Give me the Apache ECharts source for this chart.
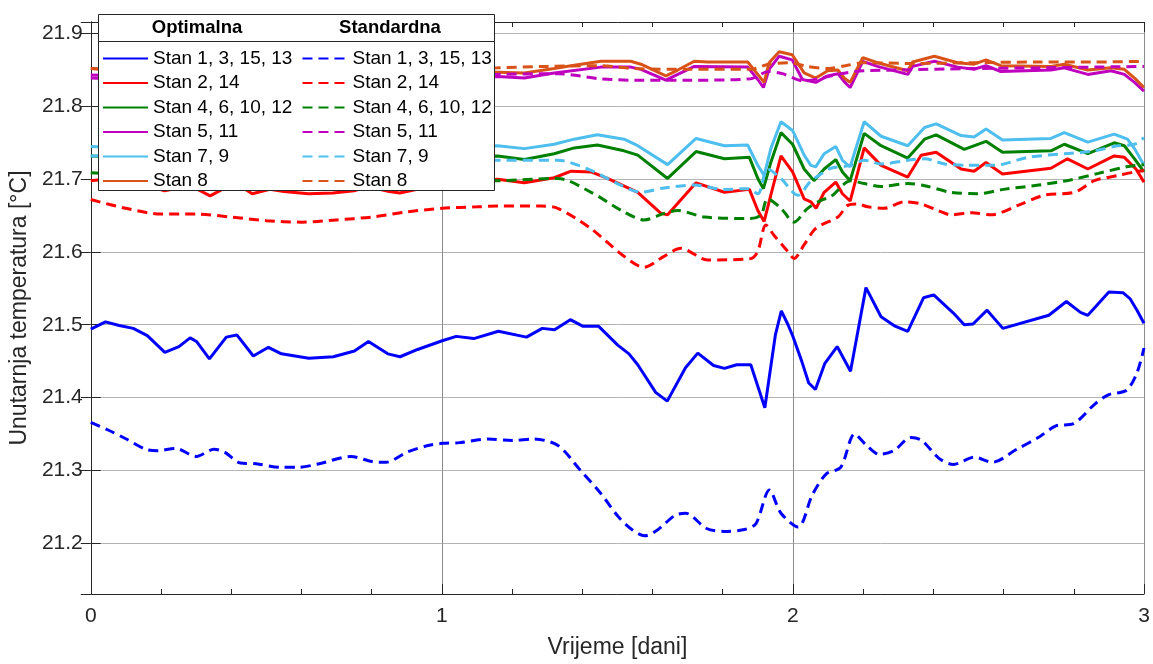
<!DOCTYPE html>
<html>
<head>
<meta charset="utf-8">
<script src="https://cdn.jsdelivr.net/npm/echarts@6/dist/echarts.min.js"></script>
<style>
html, body { margin: 0; padding: 0; background: #fff; }
#box1 { width: 1153px; height: 664px; }
</style>
</head>
<body>
<div id="box1"></div>
<script>
// [vrijeme (dani), temperatura (°C)]
var blueOpt = [[0,21.494],[0.042,21.504],[0.081,21.499],[0.121,21.495],[0.161,21.485],[0.211,21.462],[0.251,21.470],[0.283,21.482],[0.301,21.477],[0.338,21.453],[0.386,21.483],[0.416,21.486],[0.463,21.457],[0.506,21.469],[0.543,21.460],[0.621,21.454],[0.691,21.456],[0.751,21.464],[0.791,21.477],[0.846,21.460],[0.881,21.456],[0.931,21.466],[1.001,21.478],[1.041,21.484],[1.091,21.481],[1.161,21.491],[1.241,21.483],[1.286,21.495],[1.321,21.493],[1.366,21.507],[1.401,21.498],[1.446,21.498],[1.501,21.472],[1.533,21.460],[1.558,21.445],[1.609,21.407],[1.642,21.395],[1.694,21.441],[1.729,21.461],[1.774,21.444],[1.805,21.440],[1.840,21.445],[1.880,21.445],[1.920,21.386],[1.950,21.486],[1.967,21.519],[1.986,21.500],[2.000,21.484],[2.025,21.450],[2.045,21.420],[2.064,21.411],[2.091,21.447],[2.126,21.470],[2.164,21.436],[2.208,21.551],[2.251,21.511],[2.291,21.498],[2.327,21.491],[2.372,21.537],[2.401,21.541],[2.457,21.516],[2.488,21.500],[2.513,21.501],[2.553,21.520],[2.598,21.495],[2.729,21.513],[2.779,21.532],[2.819,21.517],[2.840,21.513],[2.900,21.545],[2.940,21.544],[2.960,21.536],[2.980,21.520],[3.000,21.502]];
var blueStd = [[0,21.366],[0.051,21.355],[0.101,21.343],[0.156,21.329],[0.191,21.327],[0.241,21.330],[0.301,21.319],[0.351,21.329],[0.381,21.325],[0.426,21.310],[0.471,21.309],[0.541,21.304],[0.591,21.304],[0.651,21.309],[0.741,21.319],[0.801,21.312],[0.841,21.311],[0.901,21.325],[0.961,21.334],[1.001,21.337],[1.051,21.338],[1.131,21.343],[1.201,21.341],[1.261,21.343],[1.331,21.334],[1.391,21.302],[1.453,21.268],[1.503,21.236],[1.543,21.218],[1.578,21.210],[1.614,21.218],[1.664,21.238],[1.694,21.241],[1.754,21.220],[1.805,21.216],[1.865,21.219],[1.895,21.227],[1.933,21.273],[1.966,21.241],[2.015,21.222],[2.055,21.266],[2.095,21.295],[2.136,21.304],[2.176,21.350],[2.206,21.336],[2.246,21.322],[2.287,21.327],[2.337,21.345],[2.367,21.341],[2.417,21.316],[2.457,21.308],[2.517,21.318],[2.568,21.311],[2.638,21.329],[2.699,21.345],[2.749,21.361],[2.799,21.364],[2.860,21.391],[2.900,21.404],[2.950,21.410],[2.980,21.434],[3.000,21.468]];

var redOpt = [[0,21.698],[0.04,21.700],[0.1,21.697],[0.16,21.692],[0.21,21.684],[0.25,21.688],[0.28,21.692],[0.34,21.677],[0.39,21.690],[0.42,21.692],[0.46,21.680],[0.51,21.686],[0.55,21.683],[0.62,21.680],[0.69,21.681],[0.75,21.684],[0.79,21.690],[0.85,21.683],[0.88,21.681],[0.93,21.686],[1.0,21.690],[1.08,21.696],[1.159,21.700],[1.235,21.695],[1.320,21.702],[1.368,21.711],[1.425,21.710],[1.472,21.701],[1.558,21.682],[1.624,21.653],[1.643,21.651],[1.724,21.695],[1.805,21.682],[1.876,21.686],[1.900,21.657],[1.918,21.642],[1.937,21.678],[1.966,21.732],[1.999,21.710],[2.032,21.673],[2.051,21.669],[2.066,21.660],[2.089,21.682],[2.122,21.696],[2.141,21.680],[2.163,21.670],[2.203,21.743],[2.251,21.719],[2.327,21.703],[2.365,21.733],[2.408,21.737],[2.479,21.714],[2.516,21.711],[2.550,21.723],[2.597,21.707],[2.735,21.715],[2.782,21.728],[2.840,21.714],[2.915,21.732],[2.944,21.730],[2.977,21.714],[3.0,21.696]];
var redStd = [[0,21.672],[0.1,21.660],[0.2,21.652],[0.3,21.652],[0.4,21.648],[0.5,21.643],[0.6,21.641],[0.7,21.644],[0.8,21.648],[0.9,21.655],[1.0,21.660],[1.1,21.662],[1.159,21.663],[1.282,21.663],[1.330,21.660],[1.425,21.632],[1.519,21.594],[1.576,21.579],[1.633,21.594],[1.681,21.605],[1.757,21.589],[1.880,21.591],[1.900,21.601],[1.923,21.637],[1.946,21.623],[1.985,21.601],[2.003,21.591],[2.032,21.610],[2.060,21.630],[2.080,21.637],[2.128,21.648],[2.156,21.664],[2.184,21.666],[2.213,21.662],[2.260,21.660],[2.317,21.669],[2.365,21.666],[2.413,21.657],[2.451,21.651],[2.508,21.654],[2.565,21.651],[2.641,21.664],[2.716,21.678],[2.802,21.682],[2.859,21.698],[2.925,21.705],[2.973,21.710],[3.0,21.712]];

var greenOpt = [[0,21.732],[0.1,21.730],[0.2,21.724],[0.28,21.729],[0.34,21.721],[0.41,21.729],[0.46,21.721],[0.55,21.722],[0.65,21.721],[0.79,21.728],[0.88,21.722],[1.0,21.727],[1.08,21.730],[1.159,21.732],[1.235,21.727],[1.320,21.735],[1.377,21.743],[1.443,21.747],[1.519,21.739],[1.558,21.733],[1.643,21.701],[1.724,21.738],[1.805,21.728],[1.876,21.730],[1.900,21.701],[1.916,21.687],[1.937,21.723],[1.966,21.764],[1.999,21.748],[2.032,21.714],[2.060,21.698],[2.089,21.714],[2.122,21.727],[2.141,21.710],[2.163,21.698],[2.203,21.763],[2.251,21.746],[2.327,21.729],[2.375,21.755],[2.408,21.761],[2.488,21.741],[2.550,21.752],[2.597,21.737],[2.735,21.739],[2.773,21.748],[2.840,21.735],[2.915,21.750],[2.944,21.746],[2.973,21.728],[3.0,21.710]];
var greenStd = [[0,21.709],[0.2,21.704],[0.5,21.700],[0.8,21.698],[1.0,21.698],[1.159,21.698],[1.33,21.701],[1.425,21.682],[1.519,21.655],[1.576,21.644],[1.633,21.653],[1.672,21.657],[1.748,21.648],[1.880,21.646],[1.909,21.651],[1.928,21.673],[1.966,21.660],[2.003,21.641],[2.042,21.660],[2.080,21.671],[2.108,21.676],[2.165,21.698],[2.203,21.694],[2.251,21.690],[2.327,21.694],[2.375,21.691],[2.45,21.682],[2.526,21.680],[2.60,21.686],[2.70,21.692],[2.79,21.699],[2.87,21.708],[2.95,21.717],[3.0,21.720]];

var magentaOpt = [[0,21.839],[0.1,21.837],[0.2,21.834],[0.3,21.836],[0.4,21.838],[0.5,21.836],[0.6,21.837],[0.7,21.838],[0.8,21.841],[0.9,21.837],[1.0,21.840],[1.08,21.840],[1.159,21.841],[1.235,21.839],[1.320,21.846],[1.453,21.854],[1.538,21.854],[1.567,21.851],[1.638,21.836],[1.719,21.855],[1.871,21.854],[1.900,21.837],[1.916,21.826],[1.932,21.851],[1.961,21.869],[1.998,21.864],[2.027,21.837],[2.065,21.833],[2.099,21.842],[2.128,21.845],[2.146,21.834],[2.163,21.826],[2.199,21.862],[2.241,21.855],[2.327,21.844],[2.341,21.855],[2.403,21.862],[2.469,21.854],[2.516,21.851],[2.550,21.856],[2.592,21.848],[2.735,21.850],[2.773,21.853],[2.840,21.844],[2.906,21.849],[2.944,21.844],[2.973,21.833],[3.0,21.821]];
var magentaStd = [[0,21.843],[0.3,21.842],[0.6,21.841],[0.9,21.842],[1.159,21.844],[1.33,21.845],[1.45,21.838],[1.55,21.836],[1.7,21.836],[1.88,21.838],[1.93,21.848],[1.97,21.845],[2.03,21.835],[2.09,21.840],[2.15,21.846],[2.2,21.849],[2.3,21.850],[2.5,21.852],[2.7,21.853],[3.0,21.855]];

var lightBlueOpt = [[0,21.745],[0.1,21.743],[0.2,21.737],[0.28,21.742],[0.34,21.735],[0.41,21.742],[0.46,21.735],[0.55,21.736],[0.65,21.735],[0.79,21.742],[0.88,21.736],[1.0,21.741],[1.08,21.744],[1.159,21.746],[1.235,21.742],[1.320,21.748],[1.377,21.755],[1.443,21.761],[1.519,21.755],[1.558,21.746],[1.643,21.720],[1.724,21.756],[1.805,21.746],[1.871,21.747],[1.900,21.719],[1.918,21.705],[1.937,21.742],[1.966,21.779],[1.999,21.767],[2.032,21.733],[2.051,21.719],[2.065,21.717],[2.089,21.735],[2.122,21.745],[2.141,21.726],[2.163,21.717],[2.203,21.779],[2.251,21.759],[2.327,21.746],[2.375,21.771],[2.408,21.776],[2.479,21.760],[2.516,21.758],[2.550,21.769],[2.597,21.754],[2.735,21.756],[2.773,21.764],[2.840,21.751],[2.915,21.762],[2.953,21.755],[2.973,21.742],[3.0,21.719]];
var lightBlueStd = [[0,21.732],[0.2,21.730],[0.5,21.728],[0.8,21.727],[1.0,21.727],[1.159,21.726],[1.33,21.726],[1.425,21.712],[1.50,21.694],[1.567,21.682],[1.633,21.688],[1.719,21.692],[1.805,21.686],[1.871,21.687],[1.900,21.680],[1.928,21.714],[1.966,21.701],[2.014,21.678],[2.050,21.697],[2.080,21.707],[2.108,21.715],[2.165,21.719],[2.203,21.726],[2.251,21.721],[2.327,21.726],[2.375,21.728],[2.432,21.721],[2.498,21.719],[2.574,21.719],[2.669,21.730],[2.773,21.735],[2.859,21.739],[2.925,21.746],[2.973,21.748],[3.0,21.757]];

var orangeOpt = [[0,21.852],[0.1,21.848],[0.2,21.844],[0.3,21.846],[0.4,21.848],[0.5,21.845],[0.6,21.846],[0.7,21.847],[0.8,21.850],[0.9,21.846],[1.0,21.849],[1.08,21.848],[1.159,21.847],[1.235,21.846],[1.320,21.852],[1.368,21.856],[1.453,21.862],[1.538,21.862],[1.567,21.858],[1.638,21.842],[1.672,21.850],[1.719,21.862],[1.757,21.861],[1.871,21.861],[1.900,21.844],[1.918,21.833],[1.932,21.860],[1.961,21.875],[1.998,21.871],[2.032,21.846],[2.065,21.839],[2.099,21.849],[2.128,21.850],[2.146,21.839],[2.163,21.833],[2.199,21.867],[2.241,21.860],[2.327,21.849],[2.341,21.861],[2.403,21.869],[2.469,21.860],[2.516,21.858],[2.550,21.864],[2.592,21.856],[2.735,21.855],[2.773,21.858],[2.840,21.850],[2.906,21.853],[2.944,21.851],[2.973,21.839],[3.0,21.826]];
var orangeStd = [[0,21.852],[0.3,21.851],[0.6,21.850],[0.9,21.851],[1.159,21.853],[1.3,21.855],[1.45,21.856],[1.55,21.852],[1.7,21.851],[1.88,21.851],[1.93,21.858],[1.99,21.860],[2.04,21.855],[2.1,21.852],[2.15,21.856],[2.2,21.860],[2.35,21.859],[2.5,21.860],[2.7,21.861],[2.85,21.861],[3.0,21.862]];

var stanNames = ['Stan 1, 3, 15, 13', 'Stan 2, 14', 'Stan 4, 6, 10, 12', 'Stan 5, 11', 'Stan 7, 9', 'Stan 8'];
var stanColors = ['#0000ff', '#ff0000', '#008000', '#bf00bf', '#4dbeee', '#d95319'];
var optSeries = [blueOpt, redOpt, greenOpt, magentaOpt, lightBlueOpt, orangeOpt];
var stdSeries = [blueStd, redStd, greenStd, magentaStd, lightBlueStd, orangeStd];
var xTicks = [0, 1, 2, 3];

var dom = document.getElementById('box1');
var myChart = echarts.init(dom);
var font = "'Liberation Sans', Arial, Helvetica, sans-serif";
var axisColor = '#262626';

var series = [];
stanNames.forEach(function (n, i) {
  series.push({
    name: 'opt|' + n, type: 'line', data: optSeries[i],
    symbol: 'none', smooth: false, z: 2,
    lineStyle: { color: stanColors[i], width: 3 },
    itemStyle: { color: stanColors[i] }
  });
});
stanNames.forEach(function (n, i) {
  series.push({
    name: 'std|' + n, type: 'line', data: stdSeries[i],
    symbol: 'none', smooth: 0.3, z: 2,
    lineStyle: { color: stanColors[i], width: 3, type: [10, 6] },
    itemStyle: { color: stanColors[i] }
  });
});

function legendFor(prefix, left) {
  return {
    orient: 'vertical', left: left, top: 49, padding: 0,
    itemWidth: 45, itemHeight: 14, itemGap: 5.5,
    selectedMode: false,
    // hide the marker that ECharts puts on line legend icons
    itemStyle: { opacity: 0 },
    data: stanNames.map(function (n) { return prefix + '|' + n; }),
    formatter: function (name) { return name.split('|')[1]; },
    textStyle: { fontSize: 19, color: '#000', fontFamily: font }
  };
}

var xBase = {
  type: 'value', min: xTicks[0], max: xTicks[xTicks.length - 1], interval: 1,
  axisLine: { show: true, lineStyle: { color: axisColor, width: 1 } },
  axisTick: { show: true, inside: true, length: 10, lineStyle: { color: axisColor } },
  minorTick: { show: true, splitNumber: 5, length: 5, lineStyle: { color: axisColor } }
};
var yBase = {
  type: 'value', min: 21.13, max: 21.916, splitNumber: 8, scale: true,
  axisLine: { show: true, lineStyle: { color: axisColor, width: 1 } },
  axisTick: { show: true, inside: true, length: 10, lineStyle: { color: axisColor } }
};

option = {
  backgroundColor: '#fff',
  animation: false,
  textStyle: { fontFamily: font },
  grid: { left: 90, right: 9, top: 22, bottom: 67, containLabel: false },
  legend: [legendFor('opt', 102), legendFor('std', 301.5)],
  xAxis: [
    Object.assign({}, xBase, {
      position: 'bottom',
      name: 'Vrijeme [dani]', nameLocation: 'middle', nameGap: 42,
      nameTextStyle: { fontSize: 23, color: axisColor, fontFamily: font },
      axisLabel: { fontSize: 21, color: axisColor, margin: 12, fontFamily: font },
      splitLine: { show: true, lineStyle: { color: '#8c8c8c', width: 1 } }
    }),
    Object.assign({}, xBase, {
      position: 'top', axisLabel: { show: false }, splitLine: { show: false }
    })
  ],
  yAxis: [
    Object.assign({}, yBase, {
      position: 'left',
      name: 'Unutarnja temperatura [°C]', nameLocation: 'middle', nameGap: 57,
      nameTextStyle: { fontSize: 23, color: axisColor, fontFamily: font },
      axisLabel: {
        fontSize: 21, color: axisColor, margin: 8, fontFamily: font,
        showMinLabel: false, showMaxLabel: false,
        formatter: function (v) { return v.toFixed(1); }
      },
      splitLine: { show: true, lineStyle: { color: '#b4b4b4', width: 1 } }
    }),
    Object.assign({}, yBase, {
      position: 'right', axisLabel: { show: false }, splitLine: { show: false }
    })
  ],
  graphic: [
    {
      type: 'rect', z: 3,
      shape: { x: 98.5, y: 14.5, width: 396, height: 176 },
      style: { fill: '#fff', stroke: axisColor, lineWidth: 1 }
    },
    {
      type: 'line', z: 5,
      shape: { x1: 99, y1: 41.5, x2: 494, y2: 41.5 },
      style: { stroke: axisColor, lineWidth: 1 }
    },
    {
      type: 'text', z: 5, x: 197, y: 28,
      style: { text: 'Optimalna', fontSize: 18.5, fontWeight: 'bold', fill: '#000', fontFamily: font, align: 'center', verticalAlign: 'middle' }
    },
    {
      type: 'text', z: 5, x: 390, y: 28,
      style: { text: 'Standardna', fontSize: 18.5, fontWeight: 'bold', fill: '#000', fontFamily: font, align: 'center', verticalAlign: 'middle' }
    }
  ],
  series: series
};

if (option && typeof option === 'object') {
  myChart.setOption(option);
}
</script>
</body>
</html>
